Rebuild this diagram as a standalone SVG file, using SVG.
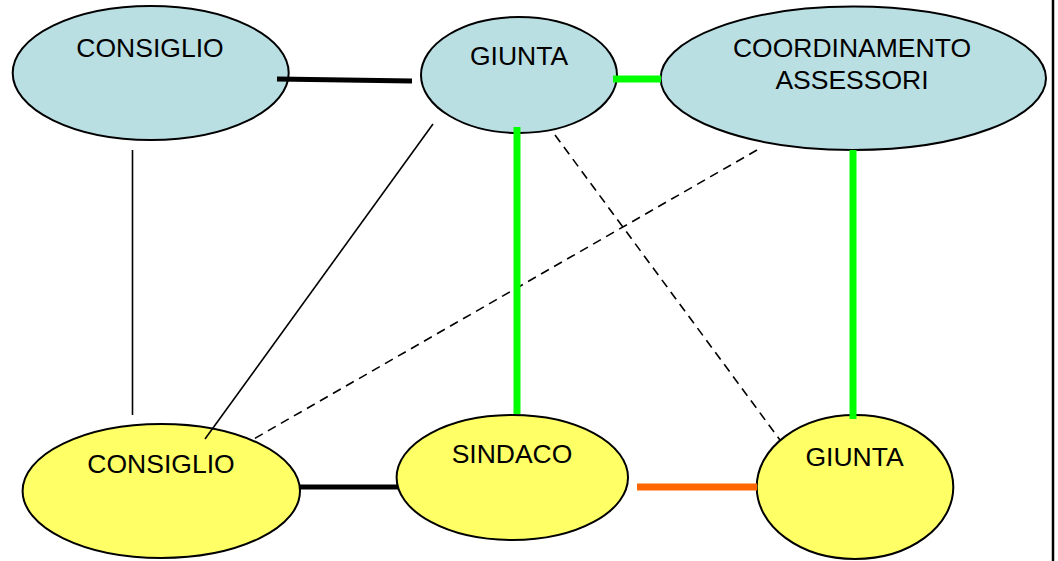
<svg xmlns="http://www.w3.org/2000/svg" width="1058" height="561" viewBox="0 0 1058 561">
  <style>
    .node { stroke: #000; stroke-width: 2; }
    .blue { fill: #B9DFE3; }
    .yellow { fill: #FFFF66; }
    .label { font-family: "Liberation Sans", Arial, sans-serif; font-size: 26.5px; fill: #000; text-anchor: middle; }
    .thin { stroke: #000; stroke-width: 1.6; fill: none; }
    .dash { stroke: #000; stroke-width: 1.6; fill: none; stroke-dasharray: 9 6; }
    .bold { stroke: #000; stroke-width: 5; fill: none; }
    .green { stroke: #00FF00; stroke-width: 7; fill: none; }
    .orange { stroke: #FF6600; stroke-width: 7; fill: none; }
  </style>
  <rect x="0" y="0" width="1058" height="561" fill="#fff"/>
  <line x1="1053" y1="0" x2="1053" y2="561" stroke="#000" stroke-width="2.5"/>

  <g id="consiglio-top">
    <ellipse class="node blue" cx="150.7" cy="73" rx="138" ry="67"/>
    <text class="label" x="150" y="57">CONSIGLIO</text>
  </g>
  <g id="giunta-top">
    <ellipse class="node blue" cx="519" cy="75" rx="98" ry="58"/>
    <text class="label" x="519" y="65">GIUNTA</text>
  </g>
  <g id="coordinamento-assessori">
    <ellipse class="node blue" cx="853.3" cy="78.3" rx="192.7" ry="71.7"/>
    <text class="label" x="852" y="57.3">COORDINAMENTO</text>
    <text class="label" x="852" y="89.3">ASSESSORI</text>
  </g>
  <g id="consiglio-bottom">
    <ellipse class="node yellow" cx="161.3" cy="491" rx="138.7" ry="67"/>
    <text class="label" x="161" y="473.3">CONSIGLIO</text>
  </g>
  <g id="sindaco">
    <ellipse class="node yellow" cx="512.3" cy="477.5" rx="115.7" ry="62.5"/>
    <text class="label" x="512" y="462.7">SINDACO</text>
  </g>
  <g id="giunta-bottom">
    <ellipse class="node yellow" cx="855" cy="487" rx="98.3" ry="72"/>
    <text class="label" x="854.5" y="466">GIUNTA</text>
  </g>

  <!-- links are drawn over the ellipses, so their ends show inside them -->
  <g id="connectors">
    <line class="thin" x1="132.5" y1="150" x2="132.5" y2="415"/>
    <line class="thin" x1="433" y1="124" x2="205" y2="439"/>
    <line class="dash" x1="757" y1="150" x2="252" y2="440"/>
    <line class="dash" x1="555" y1="135" x2="780" y2="440"/>
    <line class="bold" x1="277" y1="79" x2="412" y2="81"/>
    <line class="bold" x1="300" y1="487" x2="398" y2="487"/>
    <line class="green" x1="613" y1="79" x2="661" y2="79"/>
    <line class="green" x1="517" y1="127" x2="517" y2="414"/>
    <line class="green" x1="853" y1="150" x2="853" y2="419"/>
    <line class="orange" x1="637" y1="487" x2="757" y2="487"/>
  </g>
</svg>
